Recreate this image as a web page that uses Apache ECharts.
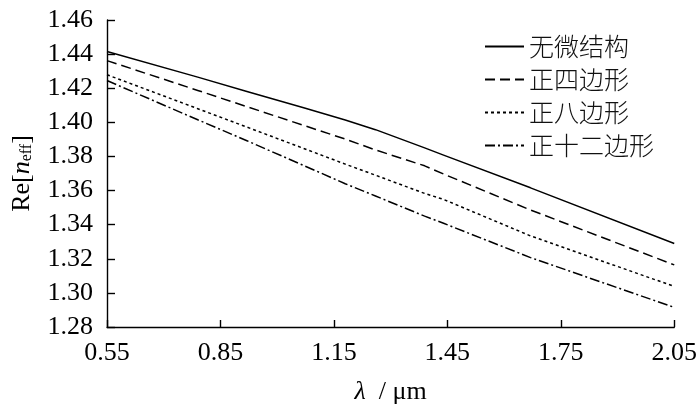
<!DOCTYPE html>
<html>
<head>
<meta charset="utf-8">
<script src="https://cdn.jsdelivr.net/npm/echarts@6/dist/echarts.min.js"></script>
<style>
html,body{margin:0;padding:0;background:#fff;}
#c{width:700px;height:410px;}
</style>
</head>
<body>
<div id="c"></div>
<script>
// wavelength sample points (μm)
var lambda = [0.55, 0.79, 0.92, 1.07, 1.18, 1.26, 1.39, 1.44, 1.67, 2.05];
// Re[n_eff] for each structure
var noStructure = [1.4415, 1.4265, 1.4181, 1.4085, 1.4014, 1.3957, 1.3850, 1.3808, 1.3616, 1.3290];
var square      = [1.4362, 1.4187, 1.4092, 1.3982, 1.3902, 1.3838, 1.3745, 1.3697, 1.3486, 1.3164];
var octagon     = [1.4279, 1.4080, 1.3972, 1.3847, 1.3755, 1.3690, 1.3583, 1.3548, 1.3334, 1.3038];
var dodecagon   = [1.4245, 1.4015, 1.3892, 1.3747, 1.3640, 1.3568, 1.3450, 1.3408, 1.3207, 1.2915];
var seriesNames = ['无微结构', '正四边形', '正八边形', '正十二边形'];
var xTicks = [0.55, 0.85, 1.15, 1.45, 1.75, 2.05];
var yTicks = [1.28, 1.30, 1.32, 1.34, 1.36, 1.38, 1.40, 1.42, 1.44, 1.46];

var X0 = xTicks[0];
function pairs(vals) {
  return lambda.map(function (l, i) {
    return [Math.round((l - X0) * 10000) / 10000, vals[i]];
  });
}
var dashStyles = ['solid', [10, 5], [3, 3], [10, 3, 2, 3]];
var allVals = [noStructure, square, octagon, dodecagon];

var serif = 'Liberation Serif';
var chart = echarts.init(document.getElementById('c'), null, {renderer: 'canvas'});
var option = {
  backgroundColor: '#fff',
  animation: false,
  grid: {left: 107, right: 15, top: 20, bottom: 82, containLabel: false},
  legend: {
    orient: 'vertical',
    left: 484,
    top: 34,
    itemGap: 8,
    itemWidth: 39,
    itemHeight: 14,
    padding: 0,
    data: seriesNames,
    itemStyle: {opacity: 0},
    textStyle: {fontFamily: 'Noto Sans CJK SC', fontSize: 25, color: '#111', fontWeight: 300}
  },
  xAxis: {
    type: 'value',
    min: 0,
    max: Math.round((xTicks[xTicks.length - 1] - X0) * 100) / 100,
    interval: 0.3,
    axisLine: {lineStyle: {color: '#000', width: 1.4}},
    axisTick: {inside: true, length: 7, lineStyle: {color: '#000', width: 1.4}},
    splitLine: {show: false},
    axisLabel: {
      margin: 13,
      color: '#000',
      fontFamily: serif,
      fontSize: 26,
      formatter: function (v) { return (v + X0).toFixed(2); }
    },
    name: '{i|λ}  / μm',
    nameLocation: 'middle',
    nameGap: 52,
    nameTextStyle: {
      fontFamily: serif, fontSize: 26, color: '#000',
      rich: {i: {fontFamily: serif, fontSize: 26, fontStyle: 'italic', color: '#000'}}
    }
  },
  yAxis: {
    type: 'value',
    min: yTicks[0],
    max: yTicks[yTicks.length - 1],
    interval: 0.02,
    axisLine: {show: true, lineStyle: {color: '#000', width: 1.4}},
    axisTick: {show: true, inside: true, length: 8, lineStyle: {color: '#000', width: 1.4}},
    splitLine: {show: false},
    axisLabel: {
      margin: 14,
      color: '#000',
      fontFamily: serif,
      fontSize: 26,
      formatter: function (v) { return v.toFixed(2); }
    },
    name: 'Re[{i|n}{s|eff}]',
    nameLocation: 'middle',
    nameGap: 72,
    nameTextStyle: {
      fontFamily: serif, fontSize: 26, color: '#000',
      rich: {
        i: {fontFamily: serif, fontSize: 26, fontStyle: 'italic', color: '#000'},
        s: {fontFamily: serif, fontSize: 16, color: '#000', verticalAlign: 'bottom', padding: [10, 0, 0, 0]}
      }
    }
  },
  series: seriesNames.map(function (n, k) {
    return {
      name: n,
      type: 'line',
      symbol: 'none',
      data: pairs(allVals[k]),
      lineStyle: {color: '#000', width: 1.5, type: dashStyles[k]},
      itemStyle: {color: '#000'}
    };
  })
};
chart.setOption(option);
</script>
</body>
</html>
